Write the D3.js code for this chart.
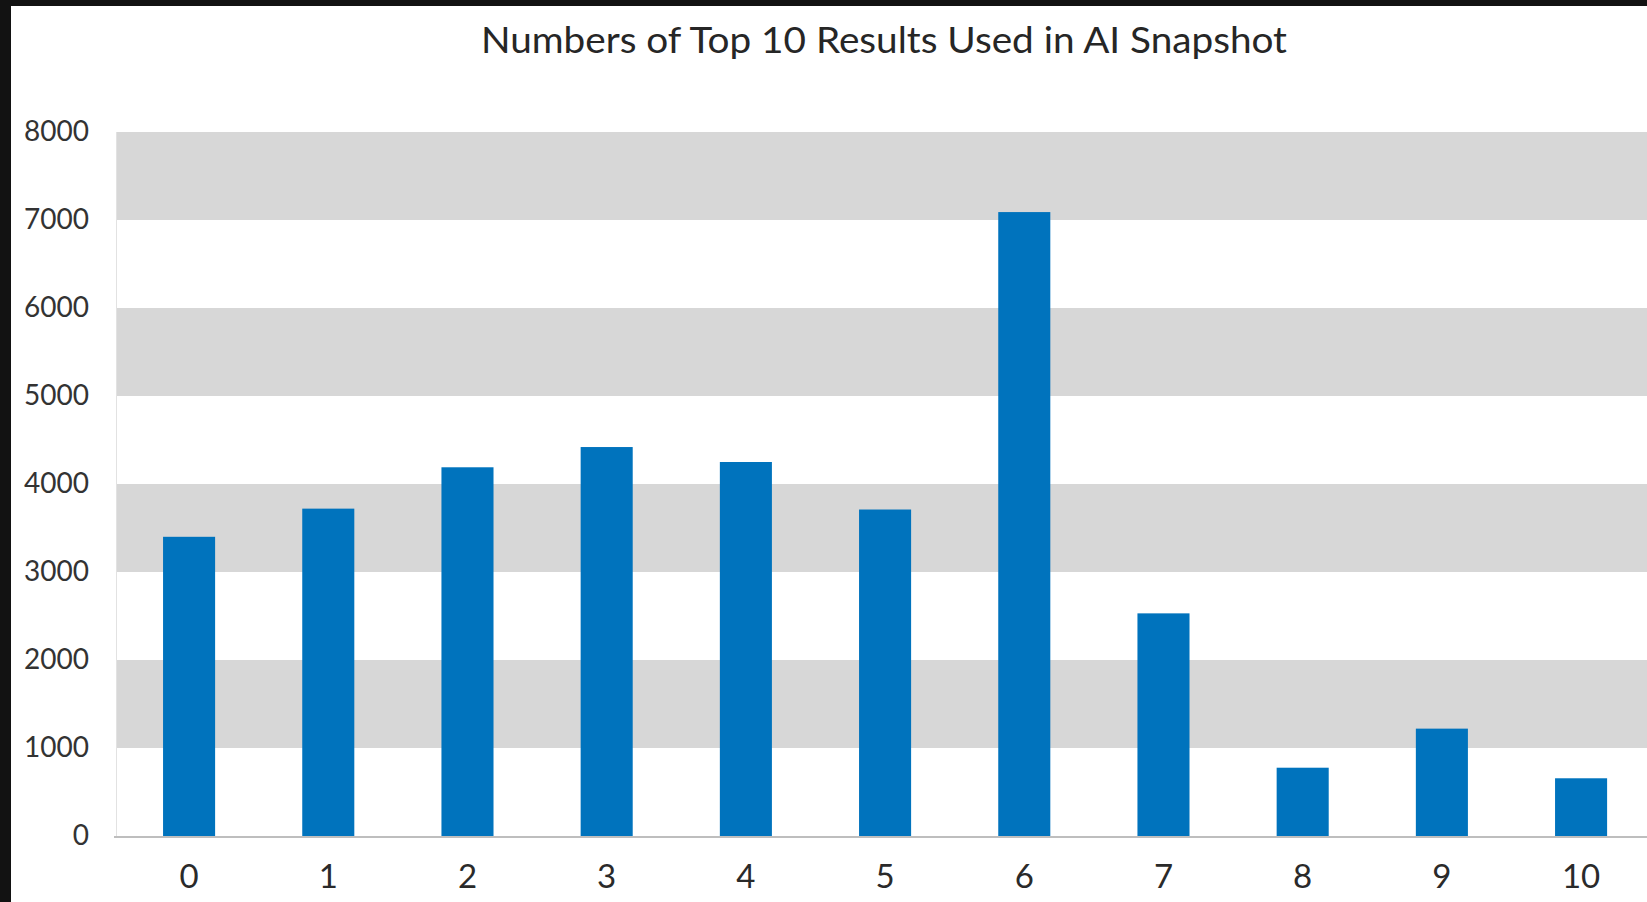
<!DOCTYPE html>
<html>
<head>
<meta charset="utf-8">
<script src="https://cdn.jsdelivr.net/npm/d3@7"></script>
<style>
  html, body { margin: 0; padding: 0; background: #121212; overflow: hidden; }
  svg { display: block; }
</style>
</head>
<body>
<svg id="chart" width="1647" height="902"></svg>
<script>
// Number of top-10 results used in the AI snapshot, and how many snapshots used that many
const categories = ["0", "1", "2", "3", "4", "5", "6", "7", "8", "9", "10"];
const counts = [3400, 3720, 4190, 4420, 4250, 3710, 7090, 2530, 776, 1220, 656];
const yTicks = [0, 1000, 2000, 3000, 4000, 5000, 6000, 7000, 8000];
const title = "Numbers of Top 10 Results Used in AI Snapshot";

const W = 1647, H = 902;
const svg = d3.select("#chart");

// Dark frame and white card
svg.append("rect").attr("width", W).attr("height", H).attr("fill", "#121212");
svg.append("rect").attr("x", 11).attr("y", 6).attr("width", W - 11).attr("height", H - 6).attr("fill", "#ffffff");

const plot = { left: 116, right: W, top: 132, bottom: 836 };

const y = d3.scaleLinear().domain([0, 8000]).range([plot.bottom, plot.top]);

const paddingInner = 0.626, paddingOuter = 0.338, step = 139.2;
const x = d3.scaleBand()
  .domain(categories)
  .range([plot.left, plot.left + step * (categories.length - paddingInner + 2 * paddingOuter)])
  .paddingInner(paddingInner)
  .paddingOuter(paddingOuter)
  .align(0.5);

// Alternating horizontal bands: grey between odd and even thousands
const bandPairs = d3.pairs(yTicks).filter(([a]) => (a / 1000) % 2 === 1);
svg.append("g").selectAll("rect")
  .data(bandPairs)
  .join("rect")
  .attr("x", plot.left)
  .attr("width", plot.right - plot.left)
  .attr("y", d => y(d[1]))
  .attr("height", d => y(d[0]) - y(d[1]))
  .attr("fill", "#d7d7d7");

// Faint left edge of the plot area
svg.append("line")
  .attr("x1", plot.left + 0.5).attr("x2", plot.left + 0.5)
  .attr("y1", plot.top).attr("y2", plot.bottom)
  .attr("stroke", "#e2e2e2").attr("stroke-width", 1);

// Bars
svg.append("g").selectAll("rect")
  .data(categories.map((c, i) => ({ c, v: counts[i] })))
  .join("rect")
  .attr("x", d => x(d.c))
  .attr("width", x.bandwidth())
  .attr("y", d => y(d.v))
  .attr("height", d => y(0) - y(d.v))
  .attr("fill", "#0073bd");

// Baseline
svg.append("line")
  .attr("x1", plot.left - 2).attr("x2", plot.right)
  .attr("y1", plot.bottom + 1).attr("y2", plot.bottom + 1)
  .attr("stroke", "#a8a8a8").attr("stroke-width", 1.6);

// Y axis labels
const yAxis = d3.axisLeft(y).tickValues(yTicks).tickSize(0).tickPadding(0).tickFormat(d3.format("d"));
const gy = svg.append("g").attr("transform", "translate(89,0)").call(yAxis);
gy.select(".domain").remove();
gy.selectAll("text")
  .attr("font-family", "Lato, 'Open Sans', sans-serif")
  .attr("font-size", 28)
  .attr("fill", "#333333")
  .attr("dy", "0.3em");

// X axis labels
const xAxis = d3.axisBottom(x).tickSize(0).tickPadding(0);
const gx = svg.append("g").attr("transform", `translate(0,${plot.bottom})`).call(xAxis);
gx.select(".domain").remove();
gx.selectAll("text")
  .attr("font-family", "Lato, 'Open Sans', sans-serif")
  .attr("font-size", 33)
  .attr("fill", "#2a2a2a")
  .attr("dy", 0)
  .attr("y", 52);

// Title
svg.append("text")
  .attr("x", 884)
  .attr("y", 53)
  .attr("text-anchor", "middle")
  .attr("font-family", "Lato, 'Open Sans', sans-serif")
  .attr("font-size", 36)
  .attr("fill", "#262626")
  .attr("textLength", 806)
  .attr("lengthAdjust", "spacingAndGlyphs")
  .text(title);
</script>
</body>
</html>
